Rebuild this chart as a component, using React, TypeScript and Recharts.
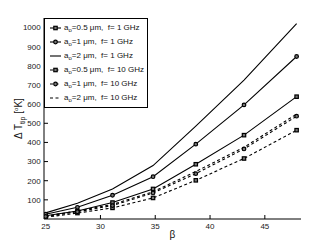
import React from "react"
import { Legend, Line, LineChart, XAxis, YAxis } from "recharts"

// beta values and temperature rise readings (K)
const beta = [25, 27.9, 31.1, 34.8, 38.7, 43.1, 47.9]
const a05f1 = [17, 42, 86, 157, 286, 438, 639]
const a1f1 = [25, 61, 124, 221, 391, 596, 849]
const a2f1 = [32, 82, 157, 279, 485, 726, 1021]
const a05f10 = [9, 31, 58, 110, 202, 316, 464]
const a1f10 = [13, 38, 70, 136, 237, 366, 537]
const a2f10 = [15, 42, 76, 142, 248, 375, 548]

const xTicks = [25, 30, 35, 40, 45]
const yTicks = [100, 200, 300, 400, 500, 600, 700, 800, 900, 1000]

const series = [
  { key: "a05f1", a: "0.5", f: "1", values: a05f1, dash: undefined, marker: "square" },
  { key: "a1f1", a: "1", f: "1", values: a1f1, dash: undefined, marker: "circle" },
  { key: "a2f1", a: "2", f: "1", values: a2f1, dash: undefined, marker: "none" },
  { key: "a05f10", a: "0.5", f: "10", values: a05f10, dash: "3 2.5", marker: "square" },
  { key: "a1f10", a: "1", f: "10", values: a1f10, dash: "3 2.5", marker: "circle" },
  { key: "a2f10", a: "2", f: "10", values: a2f10, dash: "3 2.5", marker: "none" },
]

const data = beta.map((b, i) => {
  const row: any = { beta: b }
  series.forEach((s) => (row[s.key] = s.values[i]))
  return row
})

const FONT = "'Liberation Sans', Arial, sans-serif"

const makeDot = (marker: string) => (props: any) => {
  const { cx, cy, index } = props
  if (marker === "square") {
    return <rect key={index} x={cx - 1.7} y={cy - 1.7} width={3.4} height={3.4} fill="#777" stroke="#000" strokeWidth={1.2} />
  }
  if (marker === "circle") {
    return <circle key={index} cx={cx} cy={cy} r={1.8} fill="#777" stroke="#000" strokeWidth={1.2} />
  }
  return <g key={index} />
}

const LegendBox = () => (
  <div
    style={{
      border: "1px solid #000",
      background: "#fff",
      width: 104,
      padding: "2px 0 2px 0",
      fontFamily: FONT,
      fontSize: 8,
      color: "#111",
      boxSizing: "border-box",
    }}
  >
    {series.map((s) => (
      <div key={s.key} style={{ height: 14, display: "flex", alignItems: "center", whiteSpace: "nowrap" }}>
        <svg width={19} height={14} style={{ flex: "none" }}>
          <line x1={5} x2={16} y1={7} y2={7} stroke="#000" strokeWidth={1.1} strokeDasharray={s.dash} />
          {s.marker === "square" && <rect x={8.8} y={5.3} width={3.4} height={3.4} fill="#777" stroke="#000" strokeWidth={1.2} />}
          {s.marker === "circle" && <circle cx={10.5} cy={7} r={1.8} fill="#777" stroke="#000" strokeWidth={1.2} />}
        </svg>
        <span>
          a<sub style={{ fontSize: 6, verticalAlign: -2 }}>o</sub>={s.a} μm,&nbsp; f= {s.f} GHz
        </span>
      </div>
    ))}
  </div>
)

const YLabel = (props: any) => {
  const vb = props.viewBox || { x: 0, y: 18, width: 44, height: 201 }
  const cx = vb.x + 22
  const cy = vb.y + vb.height / 2
  return (
    <text
      x={cx}
      y={cy}
      transform={`rotate(-90, ${cx}, ${cy})`}
      textAnchor="middle"
      fontFamily={FONT}
      fontSize={10}
      fill="#111"
    >
      <tspan>Δ T</tspan>
      <tspan fontSize={7} dy={2.5}>tip</tspan>
      <tspan dy={-2.5}> [</tspan>
      <tspan fontSize={6} dy={-4}>o</tspan>
      <tspan dy={4}>K]</tspan>
    </text>
  )
}

export default function App() {
  const tickStyle = { fontSize: 8, fill: "#222", fontFamily: FONT }
  return (
    <div style={{ position: "absolute", left: 0, top: 0, width: 332, height: 247, background: "#fff" }}>
      <LineChart width={332} height={247} data={data} margin={{ top: 18, right: 31, left: 0, bottom: 0 }}>
        <XAxis
          dataKey="beta"
          type="number"
          domain={[24.85, 48.3]}
          allowDataOverflow
          ticks={xTicks}
          height={28}
          tickSize={-4}
          tickMargin={8}
          tick={tickStyle}
          stroke="#000"
          axisLine={{ stroke: "#000" }}
          tickLine={{ stroke: "#000" }}
          label={{ value: "β", position: "insideBottom", offset: 9, fontSize: 10, fill: "#111", fontFamily: FONT }}
        />
        <XAxis
          xAxisId="top"
          orientation="top"
          dataKey="beta"
          type="number"
          domain={[24.85, 48.3]}
          allowDataOverflow
          ticks={xTicks}
          height={0}
          tickSize={-4}
          tickFormatter={() => ""}
          axisLine={{ stroke: "#000" }}
          tickLine={{ stroke: "#000" }}
        />
        <YAxis
          type="number"
          domain={[0, 1050]}
          allowDataOverflow
          ticks={yTicks}
          width={44}
          tickSize={-4}
          tickMargin={7.3}
          tick={tickStyle}
          axisLine={{ stroke: "#000" }}
          tickLine={{ stroke: "#000" }}
          label={<YLabel />}
        />
        <YAxis
          yAxisId="right"
          orientation="right"
          type="number"
          domain={[0, 1050]}
          allowDataOverflow
          ticks={yTicks}
          width={0}
          tickSize={-4}
          tickFormatter={() => ""}
          axisLine={{ stroke: "#000" }}
          tickLine={{ stroke: "#000" }}
        />
        <Legend
          layout="vertical"
          align="center"
          verticalAlign="middle"
          content={() => <LegendBox />}
          wrapperStyle={{ left: 44, top: 18, width: 104 }}
        />
        {series.map((s) => (
          <Line
            key={s.key}
            dataKey={s.key}
            type="linear"
            stroke="#000"
            strokeWidth={1.1}
            strokeDasharray={s.dash}
            dot={makeDot(s.marker)}
            activeDot={false}
            isAnimationActive={false}
          />
        ))}
      </LineChart>
    </div>
  )
}
